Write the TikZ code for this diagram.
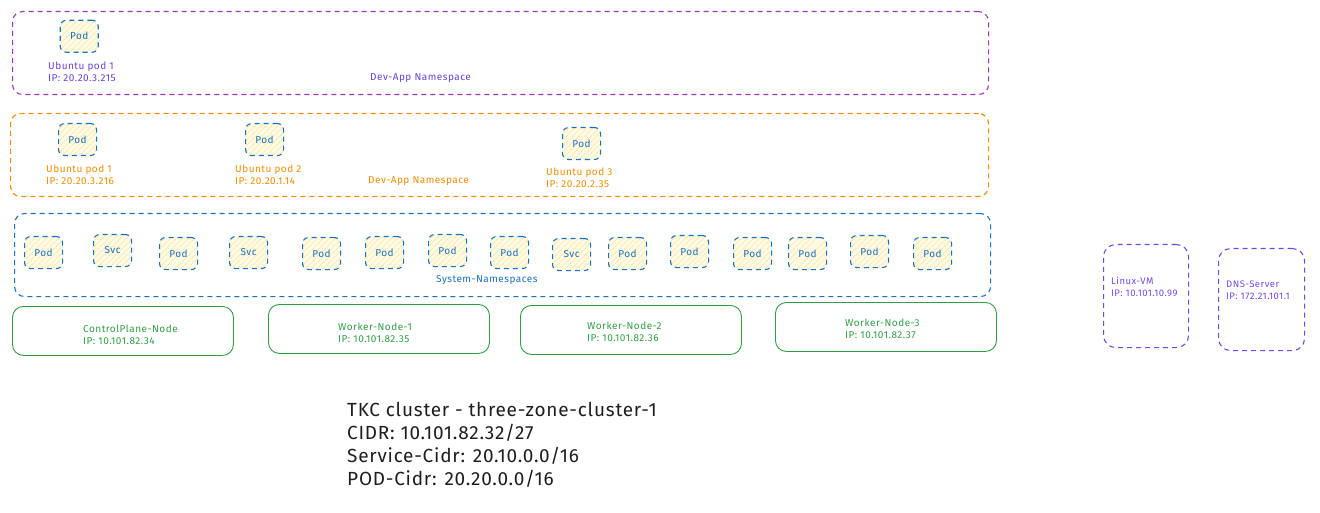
\documentclass[tikz,border=0pt]{standalone}
\usepackage{fontspec}
\setmainfont{Fira Sans}
\newfontfamily\widefont[LetterSpace=5]{Fira Sans}
\newfontfamily\bigfont[LetterSpace=4]{Fira Sans}
\usetikzlibrary{patterns.meta}
\definecolor{nsviolet}{RGB}{156,54,181}
\definecolor{txtviolet}{RGB}{103,65,217}
\definecolor{nsorange}{RGB}{240,140,0}
\definecolor{nsblue}{RGB}{25,113,194}
\definecolor{nsgreen}{RGB}{47,158,68}
\definecolor{vmviolet}{RGB}{112,72,232}
\definecolor{podfill}{RGB}{255,250,228}
\definecolor{podhatch}{RGB}{250,220,140}
\definecolor{ink}{RGB}{30,30,30}
\tikzset{
  dsh/.style={dash pattern=on 5pt off 4pt, line width=1.1pt},
  nsbox/.style={draw, dsh, rounded corners=10pt, anchor=north west, inner sep=0pt},
  podbox/.style={draw=nsblue, dsh, rounded corners=6pt, anchor=north west, inner sep=0pt,
    minimum width=38pt, minimum height=32pt, text=nsblue, font=\widefont\fontsize{10}{11}\selectfont,
    preaction={fill=podfill},
    pattern={Lines[angle=45,distance=4pt,line width=0.5pt]}, pattern color=podhatch},
  nodebox/.style={draw=nsgreen, line width=0.9pt, rounded corners=11pt, anchor=north west, inner sep=0pt,
    minimum width=221pt, minimum height=49pt},
  lbl/.style={anchor=west, inner sep=0pt, align=left, font=\widefont\fontsize{10}{12.5}\selectfont},
  big/.style={anchor=north west, inner sep=0pt, align=left, text=ink, font=\bigfont\fontsize{19}{23}\selectfont}
}
\begin{document}
\begin{tikzpicture}[x=1pt,y=-1pt]
\useasboundingbox (0,0) rectangle (1320,513);
% namespaces
\node[nsbox, draw=nsviolet, minimum width=976pt, minimum height=83pt] (ns1) at (12,11) {};
\node[nsbox, draw=nsorange, minimum width=978pt, minimum height=83pt] (ns2) at (10,113) {};
\node[nsbox, draw=nsblue, minimum width=976pt, minimum height=83pt] (ns3) at (14,213) {};
% dev-app violet
\node[podbox] (a1) at (60,20) {Pod};
\node[lbl, text=txtviolet] (a1l) at (48,72) {Ubuntu pod 1\\IP: 20.20.3.215};
\node[lbl, text=txtviolet] (ns1l) at (370,78) {Dev-App Namespace};
% dev-app orange
\node[podbox] (b1) at (58,123) {Pod};
\node[podbox] (b2) at (245,123) {Pod};
\node[podbox] (b3) at (562,127) {Pod};
\node[lbl, text=nsorange] (b1l) at (46,175) {Ubuntu pod 1\\IP: 20.20.3.216};
\node[lbl, text=nsorange] (b2l) at (235,175) {Ubuntu pod 2\\IP: 20.20.1.14};
\node[lbl, text=nsorange] (b3l) at (546,178) {Ubuntu pod 3\\IP: 20.20.2.35};
\node[lbl, text=nsorange] (ns2l) at (368,181) {Dev-App Namespace};
% system namespaces
\foreach \x/\y/\t [count=\i] in {24/236/Pod, 93/234/Svc, 159/237/Pod, 229/236/Svc, 302/237/Pod,
  365/236/Pod, 428/234/Pod, 490/236/Pod, 552/238/Svc, 608/237/Pod, 670/235/Pod, 733/237/Pod,
  788/237/Pod, 850/235/Pod, 913/237/Pod}
  \node[podbox] (s\i) at (\x,\y) {\t};
\node[lbl, text=nsblue] (ns3l) at (436,280) {System-Namespaces};
% k8s nodes
\node[nodebox] (n0) at (12,306) {};
\node[nodebox] (n1) at (268,304) {};
\node[nodebox] (n2) at (520,305) {};
\node[nodebox] (n3) at (775,302) {};
\node[lbl, text=nsgreen] (n0l) at (83,335) {ControlPlane-Node\\IP: 10.101.82.34};
\node[lbl, text=nsgreen] (n1l) at (338,333) {Worker-Node-1\\IP: 10.101.82.35};
\node[lbl, text=nsgreen] (n2l) at (587,332) {Worker-Node-2\\IP: 10.101.82.36};
\node[lbl, text=nsgreen] (n3l) at (845,329) {Worker-Node-3\\IP: 10.101.82.37};
% external
\node[nsbox, draw=vmviolet, minimum width=85pt, minimum height=103pt, rounded corners=12pt] (vm) at (1103,244) {};
\node[nsbox, draw=vmviolet, minimum width=86pt, minimum height=102pt, rounded corners=12pt] (dns) at (1218,248) {};
\node[lbl, text=vmviolet, font=\widefont\fontsize{9.5}{12}\selectfont] (vml) at (1111,287) {Linux-VM\\IP: 10.101.10.99};
\node[lbl, text=vmviolet, font=\widefont\fontsize{9.5}{12}\selectfont] (dnsl) at (1226,290) {DNS-Server\\IP: 172.21.101.1};
% cluster text
\node[big] (info) at (347,402) {TKC cluster - three-zone-cluster-1\\CIDR: 10.101.82.32/27\\Service-Cidr: 20.10.0.0/16\\POD-Cidr: 20.20.0.0/16};
\end{tikzpicture}
\end{document}
